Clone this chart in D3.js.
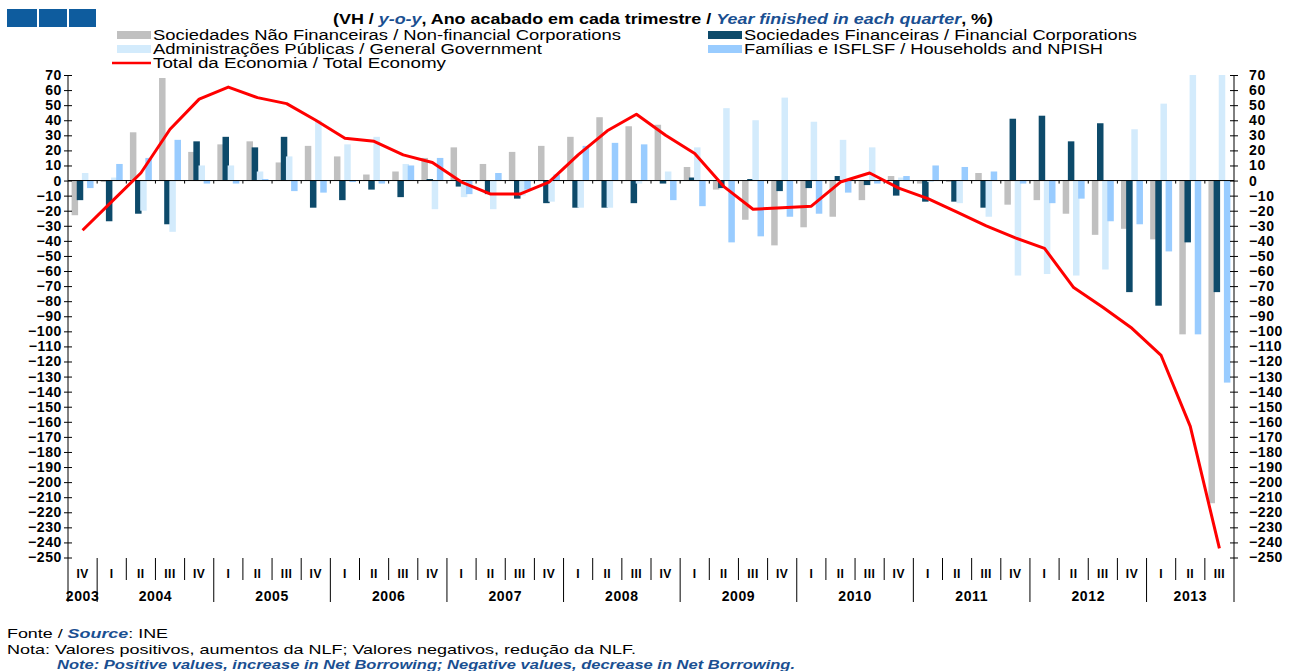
<!DOCTYPE html>
<html>
<head>
<meta charset="utf-8">
<script src="https://cdn.jsdelivr.net/npm/d3@7"></script>
<style>
  body { margin: 0; background: #fff; }
  text { font-family: "Liberation Sans", Arial, sans-serif; }
</style>
</head>
<body>
<div id="chart"></div>
<script>
// quarters 2003 IV .. 2013 III
const quarterLabels = ["IV",
  "I","II","III","IV", "I","II","III","IV", "I","II","III","IV",
  "I","II","III","IV", "I","II","III","IV", "I","II","III","IV",
  "I","II","III","IV", "I","II","III","IV", "I","II","III","IV",
  "I","II","III"];
const yearLabels = ["2003","2004","2005","2006","2007","2008","2009","2010","2011","2012","2013"];
const yearQuarters = [1,4,4,4,4,4,4,4,4,4,3];

const seriesNames = [
  "Sociedades Não Financeiras / Non-financial Corporations",
  "Sociedades Financeiras / Financial Corporations",
  "Administrações Públicas / General Government",
  "Famílias e ISFLSF / Households and NPISH"
];
const lineName = "Total da Economia / Total Economy";

const nonFinancial = [-23, -1, 32, 68, 19, 24, 26, 12, 23, 16, 4, 6, 15, 22, 11, 19, 23, 29, 42, 36,
  37, 9, -6, -26, -43, -31, -24, -13, 3, -2, -1, 5, -16, -13, -22, -36, -32, -39, -102, -214];
const financial = [-13, -27, -22, -29, 26, 29, 22, 29, -18, -13, -6, -11, 1, -4, -9, -12, -15, -18, -18, -15,
  -2, 2, -5, 1, -7, -5, 3, -3, -10, -14, -14, -18, 41, 43, 26, 38, -74, -83, -41, -74];
const generalGov = [5, 2, -20, -34, 10, 10, 6, 16, 40, 24, 29, 11, -19, -11, -19, -10, -14, -18, -18, -2,
  6, 22, 48, 40, 55, 39, 27, 22, 2, -1, -15, -24, -63, -62, -63, -59, 34, 51, 70, 70];
const households = [-5, 11, 15, 27, -2, -2, 1, -7, -8, -1, -2, 10, 15, -9, 5, -6, 4, 23, 25, 24,
  -13, -17, -41, -37, -24, -22, -8, -2, 3, 10, 9, 6, -2, -15, -12, -27, -29, -47, -102, -134];
const totalEconomy = [-33, -14, 5, 34, 54, 62, 55, 51, 40, 28, 26, 17, 12, -1, -9, -9, -1, 17, 33, 44,
  30, 18, -4, -19, -18, -17, -1, 5, -5, -12, -21, -30, -38, -45, -71, -84, -98, -116, -163, -244];

const colors = ["#c0c0c0", "#0d4a6a", "#d3ebfc", "#99ccff"];
const blue = "#1a4f91";

const W = 1293, H = 671;
const pLeft = 68, pRight = 1234, pTop = 75, pBottom = 557.5;

const svg = d3.select("#chart").append("svg")
  .attr("width", W).attr("height", H);

const idx = d3.range(quarterLabels.length);
const x = d3.scaleBand().domain(idx).range([pLeft, pRight]).padding(0);
const inner = d3.scaleBand().domain(d3.range(4)).range([-10.3, 10.3]);
const y = d3.scaleLinear().domain([-250, 70]).range([pBottom, pTop]);
const barW = 6.5;

svg.append("clipPath").attr("id", "plot")
  .append("rect").attr("x", pLeft).attr("y", pTop).attr("width", pRight - pLeft).attr("height", pBottom - pTop);

// bars
const seriesData = [nonFinancial, financial, generalGov, households];
seriesData.forEach((vals, s) => {
  svg.append("g").attr("clip-path", "url(#plot)")
    .selectAll("rect")
    .data(vals)
    .enter()
    .append("rect")
    .attr("x", (d, i) => x(i) + x.bandwidth() / 2 + inner(s) + inner.bandwidth() / 2 - barW / 2)
    .attr("y", d => y(Math.max(0, d)))
    .attr("width", barW)
    .attr("height", d => Math.abs(y(d) - y(0)))
    .attr("fill", colors[s]);
});

// zero line with small quarter ticks
svg.append("line")
  .attr("x1", pLeft).attr("x2", pRight).attr("y1", y(0)).attr("y2", y(0))
  .attr("stroke", "#000").attr("stroke-width", 1);
svg.append("g").selectAll("line")
  .data(idx.slice(1))
  .enter().append("line")
  .attr("x1", i => x(i)).attr("x2", i => x(i))
  .attr("y1", y(0)).attr("y2", y(0) + 3)
  .attr("stroke", "#000");

// total line
const lineFun = d3.line()
  .x((d, i) => x(i) + x.bandwidth() / 2)
  .y(d => y(d));
svg.append("path")
  .attr("d", lineFun(totalEconomy))
  .attr("fill", "none")
  .attr("stroke", "#ff0000")
  .attr("stroke-width", 3)
  .attr("stroke-linejoin", "round");

// y axes
const yTicks = d3.range(-250, 71, 10);
const fmt = d3.format("d");
const yl = svg.append("g").attr("transform", `translate(${pLeft},0)`)
  .call(d3.axisLeft(y).tickValues(yTicks).tickFormat(fmt).tickSize(4).tickPadding(6));
const yr = svg.append("g").attr("transform", `translate(${pRight},0)`)
  .call(d3.axisRight(y).tickValues(yTicks).tickFormat(fmt).tickSize(4).tickPadding(12));
[yl, yr].forEach(g => {
  g.select(".domain").remove();
  g.selectAll(".tick line").attr("x1", -4).attr("x2", 4).attr("stroke", "#000");
  g.selectAll(".tick text")
    .attr("font-size", 14).attr("font-weight", "bold").attr("fill", "#000")
    .attr("letter-spacing", "0.6px")
    .attr("font-family", "'Liberation Sans', Arial, sans-serif");
});
yl.selectAll(".tick text").attr("x", -6);
yr.selectAll(".tick text").attr("x", 15);
// axis lines down to bottom of category area
[pLeft, pRight].forEach(xx => {
  svg.append("line").attr("x1", xx).attr("x2", xx).attr("y1", pTop).attr("y2", 602)
    .attr("stroke", "#000");
});

// category axis
let cum = 0;
const yearStarts = yearQuarters.map(n => { const s = cum; cum += n; return s; });
svg.append("g").selectAll("line")
  .data(idx.slice(1))
  .enter().append("line")
  .attr("x1", i => x(i)).attr("x2", i => x(i))
  .attr("y1", 558)
  .attr("y2", i => yearStarts.includes(i) ? 602 : 580)
  .attr("stroke", "#000");
svg.append("g").selectAll("text")
  .data(quarterLabels)
  .enter().append("text")
  .attr("x", (d, i) => x(i) + x.bandwidth() / 2)
  .attr("y", 578)
  .attr("text-anchor", "middle")
  .attr("font-size", 12).attr("font-weight", "bold")
  .attr("letter-spacing", "0.5px")
  .text(d => d);
svg.append("g").selectAll("text")
  .data(yearLabels)
  .enter().append("text")
  .attr("x", (d, i) => (x(yearStarts[i]) + x(yearStarts[i] + yearQuarters[i] - 1) + x.bandwidth()) / 2)
  .attr("y", 601)
  .attr("text-anchor", "middle")
  .attr("font-size", 14).attr("font-weight", "bold")
  .attr("letter-spacing", "0.6px")
  .text(d => d);

// top-left boxes
[[7, 30], [39, 28], [69, 27]].forEach(([bx, bw]) => {
  svg.append("rect").attr("x", bx).attr("y", 9).attr("width", bw).attr("height", 18).attr("fill", "#0e5c9e");
});

// title
const title = svg.append("text").attr("x", 333).attr("y", 24)
  .attr("font-size", 14).attr("font-weight", "bold")
  .attr("textLength", 660).attr("lengthAdjust", "spacingAndGlyphs");
title.append("tspan").text("(VH / ");
title.append("tspan").attr("fill", blue).attr("font-style", "italic").text("y-o-y");
title.append("tspan").text(", Ano acabado em cada trimestre / ");
title.append("tspan").attr("fill", blue).attr("font-style", "italic").text("Year finished in each quarter");
title.append("tspan").text(", %)");

// legend
const legendItems = [
  { name: seriesNames[0], c: colors[0], x: 117, y: 35, w: 468 },
  { name: seriesNames[1], c: colors[1], x: 708, y: 35, w: 393 },
  { name: seriesNames[2], c: colors[2], x: 117, y: 49, w: 389 },
  { name: seriesNames[3], c: colors[3], x: 708, y: 49, w: 359 }
];
legendItems.forEach(d => {
  svg.append("rect").attr("x", d.x).attr("y", d.y - 4).attr("width", 34).attr("height", 8).attr("fill", d.c);
  svg.append("text").attr("x", d.x + 36).attr("y", d.y + 5)
    .attr("font-size", 14)
    .attr("textLength", d.w).attr("lengthAdjust", "spacingAndGlyphs")
    .text(d.name);
});
svg.append("line").attr("x1", 112).attr("x2", 151).attr("y1", 63).attr("y2", 63)
  .attr("stroke", "#ff0000").attr("stroke-width", 2.5);
svg.append("text").attr("x", 153).attr("y", 68)
  .attr("font-size", 14)
  .attr("textLength", 293).attr("lengthAdjust", "spacingAndGlyphs")
  .text(lineName);

// footer
const f1 = svg.append("text").attr("x", 7).attr("y", 638).attr("font-size", 13.5)
  .attr("textLength", 161).attr("lengthAdjust", "spacingAndGlyphs");
f1.append("tspan").text("Fonte / ");
f1.append("tspan").attr("fill", blue).attr("font-style", "italic").attr("font-weight", "bold").text("Source");
f1.append("tspan").text(": INE");
svg.append("text").attr("x", 7).attr("y", 654).attr("font-size", 13.5)
  .attr("textLength", 629).attr("lengthAdjust", "spacingAndGlyphs")
  .text("Nota: Valores positivos, aumentos da NLF; Valores negativos, redução da NLF.");
svg.append("text").attr("x", 57).attr("y", 669).attr("font-size", 13.5)
  .attr("fill", blue).attr("font-style", "italic").attr("font-weight", "bold")
  .attr("textLength", 738).attr("lengthAdjust", "spacingAndGlyphs")
  .text("Note: Positive values, increase in Net Borrowing; Negative values, decrease in Net Borrowing.");
</script>
</body>
</html>
